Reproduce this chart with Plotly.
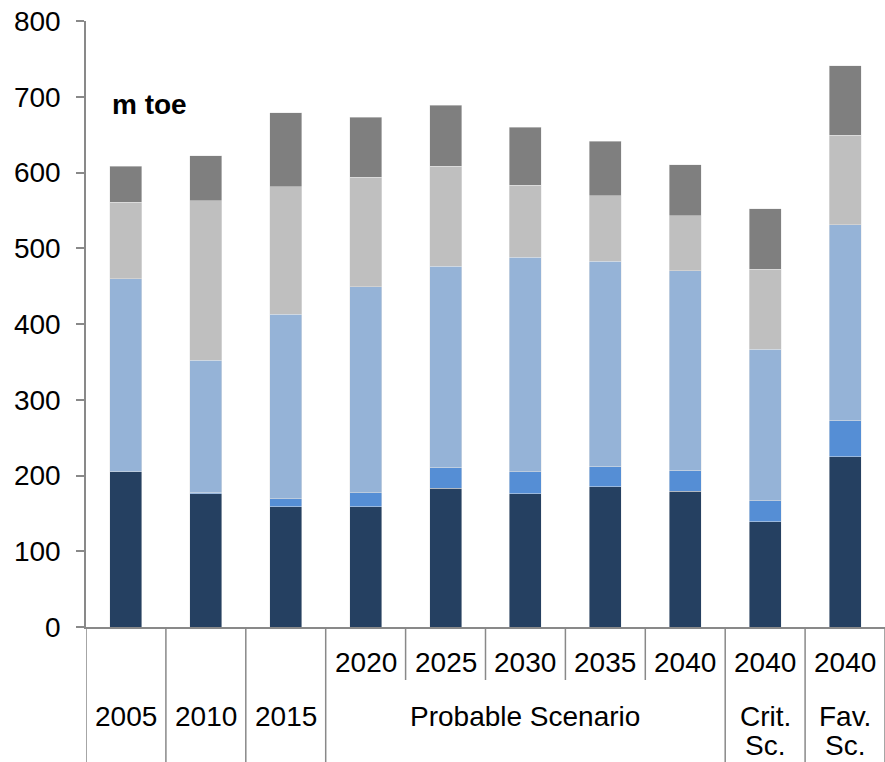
import plotly.graph_objects as go

# Data (m toe)
categories = ["2005", "2010", "2015", "2020", "2025", "2030", "2035", "2040", "2040", "2040"]
top_labels = ["", "", "", "2020", "2025", "2030", "2035", "2040", "2040", "2040"]
groups = [("2005", [0]), ("2010", [1]), ("2015", [2]),
          ("Probable Scenario", [3, 4, 5, 6, 7]), ("Crit.<br>Sc.", [8]), ("Fav.<br>Sc.", [9])]

s_dark = [205, 176, 159, 159, 183, 176, 185, 179, 139, 225]
s_mid = [0, 2, 10, 18, 28, 29, 27, 28, 28, 48]
s_lightblue = [255, 174, 244, 272, 265, 283, 271, 263, 200, 258]
s_lightgray = [101, 211, 168, 145, 132, 95, 86, 73, 105, 118]
s_darkgray = [47, 59, 98, 79, 81, 77, 72, 67, 80, 92]

series = [
    ("Series 1", s_dark, "#254061"),
    ("Series 2", s_mid, "#558ED5"),
    ("Series 3", s_lightblue, "#95B3D7"),
    ("Series 4", s_lightgray, "#BFBFBF"),
    ("Series 5", s_darkgray, "#7F7F7F"),
]

xpos = list(range(len(categories)))
FONT = "Liberation Sans, Arial, sans-serif"
AXIS = "#898989"

fig = go.Figure()
for name, vals, col in series:
    fig.add_trace(go.Bar(x=xpos, y=vals, name=name,
                         marker=dict(color=col, line=dict(width=0.6, color="rgba(230,230,230,0.8)")),
                         showlegend=False))

fig.update_layout(
    width=885, height=762,
    margin=dict(l=86, r=0, t=21, b=135),
    barmode="stack", bargap=0.6,
    plot_bgcolor="white", paper_bgcolor="white",
    font=dict(family=FONT, size=28, color="black"),
)
fig.update_xaxes(range=[-0.5, len(categories) - 0.5], showticklabels=False, ticks="",
                 showgrid=False, zeroline=False, showline=True, linecolor=AXIS, linewidth=1.5)
fig.update_yaxes(range=[0, 800], dtick=100, ticks="outside", ticklen=8, tickcolor=AXIS, tickwidth=1.5,
                 showgrid=False, zeroline=False, showline=True, linecolor=AXIS, linewidth=1.5,
                 tickfont=dict(size=28, family=FONT, color="black"), ticklabelstandoff=10)

# unit label
fig.add_annotation(text="<b>m toe</b>", xref="paper", yref="paper", x=0.03, y=0.862,
                   xanchor="left", yanchor="middle", showarrow=False,
                   font=dict(size=28, family=FONT, color="black"))

# category label rows
y_row1 = -0.058
y_row2 = -0.147
y_row3 = -0.196
for i, t in enumerate(top_labels):
    if t:
        fig.add_annotation(text=t, x=i, xref="x", yref="paper", y=y_row1, showarrow=False,
                           xanchor="center", yanchor="middle", font=dict(size=28, family=FONT))
for label, idx in groups:
    cx = sum(idx) / len(idx)
    parts = label.split("<br>")
    fig.add_annotation(text=parts[0], x=cx, xref="x", yref="paper", y=y_row2, showarrow=False,
                       xanchor="center", yanchor="middle", font=dict(size=28, family=FONT))
    if len(parts) > 1:
        fig.add_annotation(text=parts[1], x=cx, xref="x", yref="paper", y=y_row3, showarrow=False,
                           xanchor="center", yanchor="middle", font=dict(size=28, family=FONT))

# separators
group_bounds = set()
for label, idx in groups:
    group_bounds.add(min(idx) - 0.5)
    group_bounds.add(max(idx) + 0.5)
for i in range(len(categories) + 1):
    b = i - 0.5
    full = b in group_bounds
    fig.add_shape(type="line", xref="x", yref="paper", x0=b, x1=b, y0=0,
                  y1=-0.23 if full else -0.0875, line=dict(color=AXIS, width=1.5))

fig.write_html("out.html", config={"displayModeBar": False},
               post_script="document.body.style.margin='0';document.body.style.overflow='hidden';")
